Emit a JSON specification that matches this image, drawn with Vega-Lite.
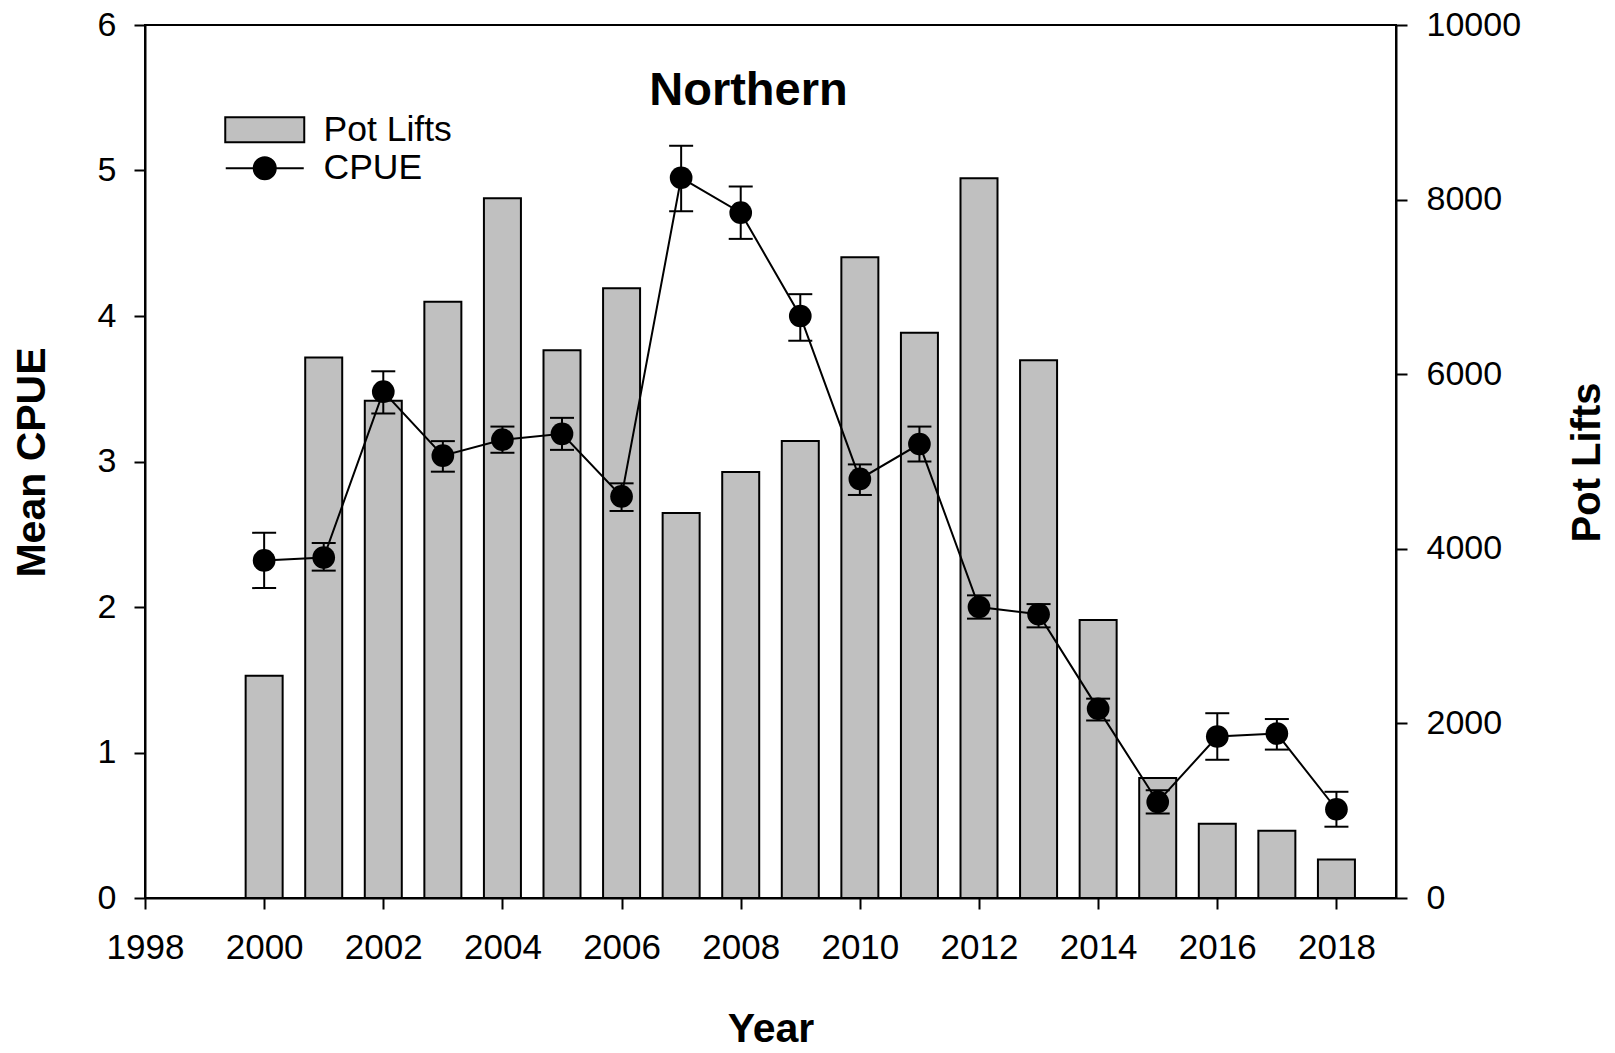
{
  "$schema": "https://vega.github.io/schema/vega-lite/v6.json",
  "width": 1251,
  "height": 873,
  "autosize": {"type": "none"},
  "padding": {"left": 145, "top": 25, "right": 219, "bottom": 155},
  "background": "white",
  "title": {"text": "Northern", "font": "Liberation Sans", "fontSize": 47, "fontWeight": "bold", "color": "black", "anchor": "middle", "frame": "group", "baseline": "alphabetic", "offset": -64, "dy": 80, "dx": -22},
  "config": {
    "view": {"stroke": "black", "strokeWidth": 2},
    "axis": {"domainColor": "black", "domainWidth": 2, "tickColor": "black", "tickWidth": 2, "tickSize": 11, "labelFont": "Liberation Sans", "labelFontSize": 34, "labelColor": "black", "labelPadding": 19, "labelFlush": false, "labelOverlap": false, "grid": false, "titleFont": "Liberation Sans", "titleFontSize": 41, "titleFontWeight": "bold", "titleColor": "black"}
  },
  "data": {"values": [
    {"year": 2000, "cpue": 2.32, "lo": 2.13, "hi": 2.51, "lifts": 2545},
    {"year": 2001, "cpue": 2.34, "lo": 2.25, "hi": 2.44, "lifts": 6190},
    {"year": 2002, "cpue": 3.48, "lo": 3.33, "hi": 3.62, "lifts": 5695},
    {"year": 2003, "cpue": 3.04, "lo": 2.93, "hi": 3.14, "lifts": 6830},
    {"year": 2004, "cpue": 3.15, "lo": 3.06, "hi": 3.24, "lifts": 8015},
    {"year": 2005, "cpue": 3.19, "lo": 3.08, "hi": 3.30, "lifts": 6275},
    {"year": 2006, "cpue": 2.76, "lo": 2.66, "hi": 2.85, "lifts": 6985},
    {"year": 2007, "cpue": 4.95, "lo": 4.72, "hi": 5.17, "lifts": 4410},
    {"year": 2008, "cpue": 4.71, "lo": 4.53, "hi": 4.89, "lifts": 4880},
    {"year": 2009, "cpue": 4.00, "lo": 3.83, "hi": 4.15, "lifts": 5235},
    {"year": 2010, "cpue": 2.88, "lo": 2.77, "hi": 2.98, "lifts": 7340},
    {"year": 2011, "cpue": 3.12, "lo": 3.00, "hi": 3.24, "lifts": 6475},
    {"year": 2012, "cpue": 2.00, "lo": 1.92, "hi": 2.08, "lifts": 8245},
    {"year": 2013, "cpue": 1.95, "lo": 1.86, "hi": 2.02, "lifts": 6160},
    {"year": 2014, "cpue": 1.30, "lo": 1.22, "hi": 1.37, "lifts": 3185},
    {"year": 2015, "cpue": 0.66, "lo": 0.58, "hi": 0.74, "lifts": 1375},
    {"year": 2016, "cpue": 1.11, "lo": 0.95, "hi": 1.27, "lifts": 850},
    {"year": 2017, "cpue": 1.13, "lo": 1.02, "hi": 1.23, "lifts": 770},
    {"year": 2018, "cpue": 0.61, "lo": 0.49, "hi": 0.73, "lifts": 440}
  ]},
  "encoding": {
    "x": {"field": "year", "type": "quantitative", "scale": {"domain": [1998, 2019], "nice": false, "zero": false, "padding": 0},
      "axis": {"values": [1998, 2000, 2002, 2004, 2006, 2008, 2010, 2012, 2014, 2016, 2018], "format": "d", "title": "Year", "titleBaseline": "middle", "titleY": 131, "labelPadding": 21, "labelFontSize": 35}}
  },
  "layer": [
    {
      "mark": {"type": "bar", "width": 37, "stroke": "black", "strokeWidth": 2, "opacity": 1},
      "encoding": {
        "y": {"field": "lifts", "type": "quantitative", "scale": {"domain": [0, 10000], "nice": false, "padding": 0},
          "axis": {"orient": "right", "values": [0, 2000, 4000, 6000, 8000, 10000], "format": "d", "title": "Pot Lifts", "titleAngle": 270, "titleBaseline": "middle", "titleX": 191, "titleY": 437, "titleFontSize": 40}},
        "fill": {"datum": "Pot Lifts", "type": "nominal",
          "scale": {"domain": ["Pot Lifts", "CPUE"], "range": ["#c0c0c0", "#000000"]},
          "legend": {"title": null, "orient": "none", "legendX": 102, "legendY": 87, "padding": 0,
            "labelFont": "Liberation Sans", "labelFontSize": 35.5, "labelColor": "black", "labelOffset": 41,
            "symbolSize": 100, "symbolStrokeColor": "black", "symbolStrokeWidth": 2, "symbolOpacity": 1, "rowPadding": 1.5,
            "encode": {"symbols": {"update": {
              "shape": {"signal": "datum.value === 'CPUE' ? 'M-7.8,0H7.8M2.2,0A2.2,2.2,0,1,1,-2.2,0A2.2,2.2,0,1,1,2.2,0Z' : 'M-7.9,-2.5H7.9V2.5H-7.9Z'"},
              "stroke": {"value": "black"}, "strokeWidth": {"value": 2}}}}}}
      }
    },
    {
      "layer": [
        {
          "mark": {"type": "line", "color": "black", "strokeWidth": 2},
          "encoding": {"y": {"field": "cpue", "type": "quantitative", "title": "Mean CPUE", "scale": {"domain": [0, 6], "nice": false, "padding": 0},
            "axis": {"orient": "left", "values": [0, 1, 2, 3, 4, 5, 6], "format": "d", "labelPadding": 18, "title": "Mean CPUE", "titleAngle": 270, "titleBaseline": "middle", "titleX": -113, "titleY": 437}}}
        },
        {
          "mark": {"type": "rule", "color": "black", "strokeWidth": 2},
          "encoding": {"y": {"field": "lo", "type": "quantitative", "title": "Mean CPUE"}, "y2": {"field": "hi"}}
        },
        {
          "mark": {"type": "tick", "orient": "horizontal", "color": "black", "size": 24, "thickness": 2, "opacity": 1},
          "encoding": {"y": {"field": "lo", "type": "quantitative", "title": "Mean CPUE"}}
        },
        {
          "mark": {"type": "tick", "orient": "horizontal", "color": "black", "size": 24, "thickness": 2, "opacity": 1},
          "encoding": {"y": {"field": "hi", "type": "quantitative", "title": "Mean CPUE"}}
        },
        {
          "mark": {"type": "point", "filled": true, "shape": "circle", "size": 515, "opacity": 1},
          "encoding": {"y": {"field": "cpue", "type": "quantitative", "title": "Mean CPUE"}, "fill": {"datum": "CPUE", "type": "nominal"}}
        }
      ]
    }
  ],
  "resolve": {"scale": {"y": "independent"}}
}
